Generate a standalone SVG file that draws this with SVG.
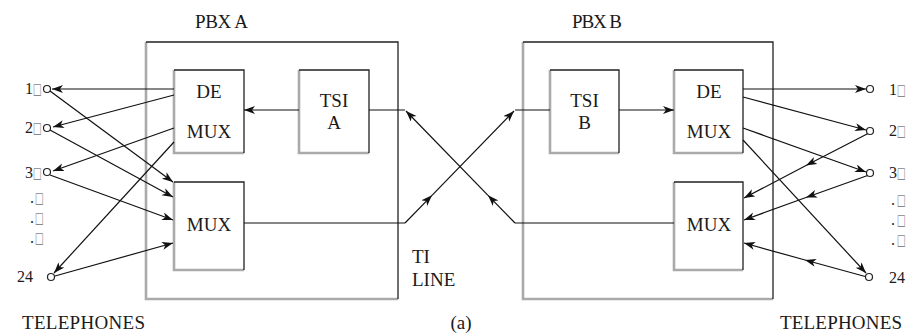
<svg xmlns="http://www.w3.org/2000/svg" width="909" height="333" viewBox="0 0 909 333" font-family="'Liberation Serif', 'DejaVu Serif', serif">
<style>
text{fill:#1a1a1a;}
.lbl{font-size:19px;}
.ph{font-size:16px;}
.bx{font-size:11px;fill:#888;font-family:"DejaVu Sans",sans-serif;}
.dk{fill:none;stroke:#222;stroke-width:1.3;}
.gr{fill:none;stroke:#aaa;stroke-width:2.6;}
.ln{fill:none;stroke:#111;stroke-width:1.2;}
.ar{fill:none;stroke:#111;stroke-width:1.2;marker-end:url(#ah);}
.arm{fill:none;stroke:#111;stroke-width:1.2;marker-mid:url(#ah);marker-end:url(#ah);}
.tel{fill:#fff;stroke:#222;stroke-width:1.2;}
</style>
<defs>
<marker id="ah" markerUnits="userSpaceOnUse" markerWidth="12" markerHeight="10" refX="11" refY="4" orient="auto">
<path d="M0,0 L11,4 L0,8 L3,4 z" fill="#111"/>
</marker>
</defs>

<g id="pbxA">
<path class="gr" d="M146,42 V299 H398"/>
<path class="dk" d="M146,42 H398 V299"/>
<text class="lbl" x="195" y="28" textLength="53">PBX A</text>
</g>
<g id="pbxB">
<path class="gr" d="M523,42 V299 H773"/>
<path class="dk" d="M523,42 H773 V299"/>
<text class="lbl" x="572" y="28" textLength="50">PBX B</text>
</g>

<g id="demuxA">
<path class="gr" d="M174,70 V153 H244"/>
<path class="dk" d="M174,70 H244 V153"/>
<text class="lbl" x="209" y="98" text-anchor="middle">DE</text>
<text class="lbl" x="209" y="138" text-anchor="middle">MUX</text>
</g>
<g id="muxA">
<path class="gr" d="M174,182 V270 H244"/>
<path class="dk" d="M174,182 H244 V270"/>
<text class="lbl" x="209" y="231" text-anchor="middle">MUX</text>
</g>
<g id="tsiA">
<path class="gr" d="M299,70 V153 H369"/>
<path class="dk" d="M299,70 H369 V153"/>
<text class="lbl" x="334" y="107" text-anchor="middle">TSI</text>
<text class="lbl" x="334" y="129" text-anchor="middle">A</text>
</g>
<g id="tsiB">
<path class="gr" d="M550,70 V153 H619"/>
<path class="dk" d="M550,70 H619 V153"/>
<text class="lbl" x="584.5" y="107" text-anchor="middle">TSI</text>
<text class="lbl" x="584.5" y="129" text-anchor="middle">B</text>
</g>
<g id="demuxB">
<path class="gr" d="M674,70 V153 H743"/>
<path class="dk" d="M674,70 H743 V153"/>
<text class="lbl" x="709" y="98" text-anchor="middle">DE</text>
<text class="lbl" x="709" y="138" text-anchor="middle">MUX</text>
</g>
<g id="muxB">
<path class="gr" d="M674,182 V270 H743"/>
<path class="dk" d="M674,182 H743 V270"/>
<text class="lbl" x="709" y="231" text-anchor="middle">MUX</text>
</g>

<g id="phonesA">
<text class="ph" x="25" y="94">1</text><text class="bx" transform="translate(33,94) scale(0.85,1.4)">□</text>
<text class="ph" x="25" y="133">2</text><text class="bx" transform="translate(33,133) scale(0.85,1.4)">□</text>
<text class="ph" x="25" y="178">3</text><text class="bx" transform="translate(33,178) scale(0.85,1.4)">□</text>
<text class="ph" x="30" y="203">.</text><text class="bx" transform="translate(35,203) scale(0.85,1.4)">□</text>
<text class="ph" x="30" y="223">.</text><text class="bx" transform="translate(35,223) scale(0.85,1.4)">□</text>
<text class="ph" x="30" y="243">.</text><text class="bx" transform="translate(35,243) scale(0.85,1.4)">□</text>
<text class="ph" x="17" y="282">24</text>
<text class="lbl" x="22" y="329" textLength="123">TELEPHONES</text>
</g>
<g id="phonesB">
<text class="ph" x="889" y="95">1</text><text class="bx" transform="translate(897,95) scale(0.85,1.4)">□</text>
<text class="ph" x="889" y="136">2</text><text class="bx" transform="translate(897,136) scale(0.85,1.4)">□</text>
<text class="ph" x="889" y="178">3</text><text class="bx" transform="translate(897,178) scale(0.85,1.4)">□</text>
<text class="ph" x="891" y="205">.</text><text class="bx" transform="translate(897,205) scale(0.85,1.4)">□</text>
<text class="ph" x="891" y="225">.</text><text class="bx" transform="translate(897,225) scale(0.85,1.4)">□</text>
<text class="ph" x="891" y="245">.</text><text class="bx" transform="translate(897,245) scale(0.85,1.4)">□</text>
<text class="ph" x="889" y="283">24</text>
<text class="lbl" x="780" y="329" textLength="122">TELEPHONES</text>
</g>

<g id="t1line">
<text class="lbl" x="412" y="263">TI</text>
<text class="lbl" x="412" y="286">LINE</text>
</g>
<text class="lbl" x="461" y="329" text-anchor="middle">(a)</text>

<g id="connectors">
<path class="ar" d="M299,110 H244"/>
<path class="ar" d="M619,110 H674"/>
<path class="ln" d="M674,223 H515"/>
<path class="ar" d="M515,223 L488,195.3"/>
<path class="ar" d="M488,195.3 L406,111"/>
<path class="ln" d="M405,110 H369"/>
<path class="ln" d="M244,223 H405"/>
<path class="ar" d="M405,223 L432,195.3"/>
<path class="ar" d="M432,195.3 L514,111"/>
<path class="ln" d="M515,110 H550"/>
<path class="ar" d="M174,89 L52,89"/>
<path class="ar" d="M174,95 L53,127"/>
<path class="ar" d="M174,128 L53,171"/>
<path class="ar" d="M174,142 L54,273"/>
<path class="ar" d="M50,91 L173,182"/>
<path class="ar" d="M50,130 L173,197"/>
<path class="ar" d="M50,175 L173,220"/>
<path class="ar" d="M55,276 L173,243"/>
<path class="ar" d="M743,89 L866,89"/>
<path class="ar" d="M743,97 L866,130"/>
<path class="ar" d="M743,128 L866,172"/>
<path class="ar" d="M743,140 L866,273"/>
<path class="arm" d="M869,133 L806,165.5 L744,198"/>
<path class="arm" d="M869,175 L806,197.5 L744,220"/>
<path class="arm" d="M867,277 L805,260 L744,243"/>
</g>

<g id="phoneCircles">
<circle class="tel" cx="47" cy="89" r="3.5"/>
<circle class="tel" cx="47" cy="128" r="3.5"/>
<circle class="tel" cx="47" cy="172" r="3.5"/>
<circle class="tel" cx="51" cy="277" r="3.5"/>
<circle class="tel" cx="870" cy="89" r="3.5"/>
<circle class="tel" cx="870" cy="131" r="3.5"/>
<circle class="tel" cx="870" cy="173" r="3.5"/>
<circle class="tel" cx="869" cy="277" r="3.5"/>
</g>
</svg>
